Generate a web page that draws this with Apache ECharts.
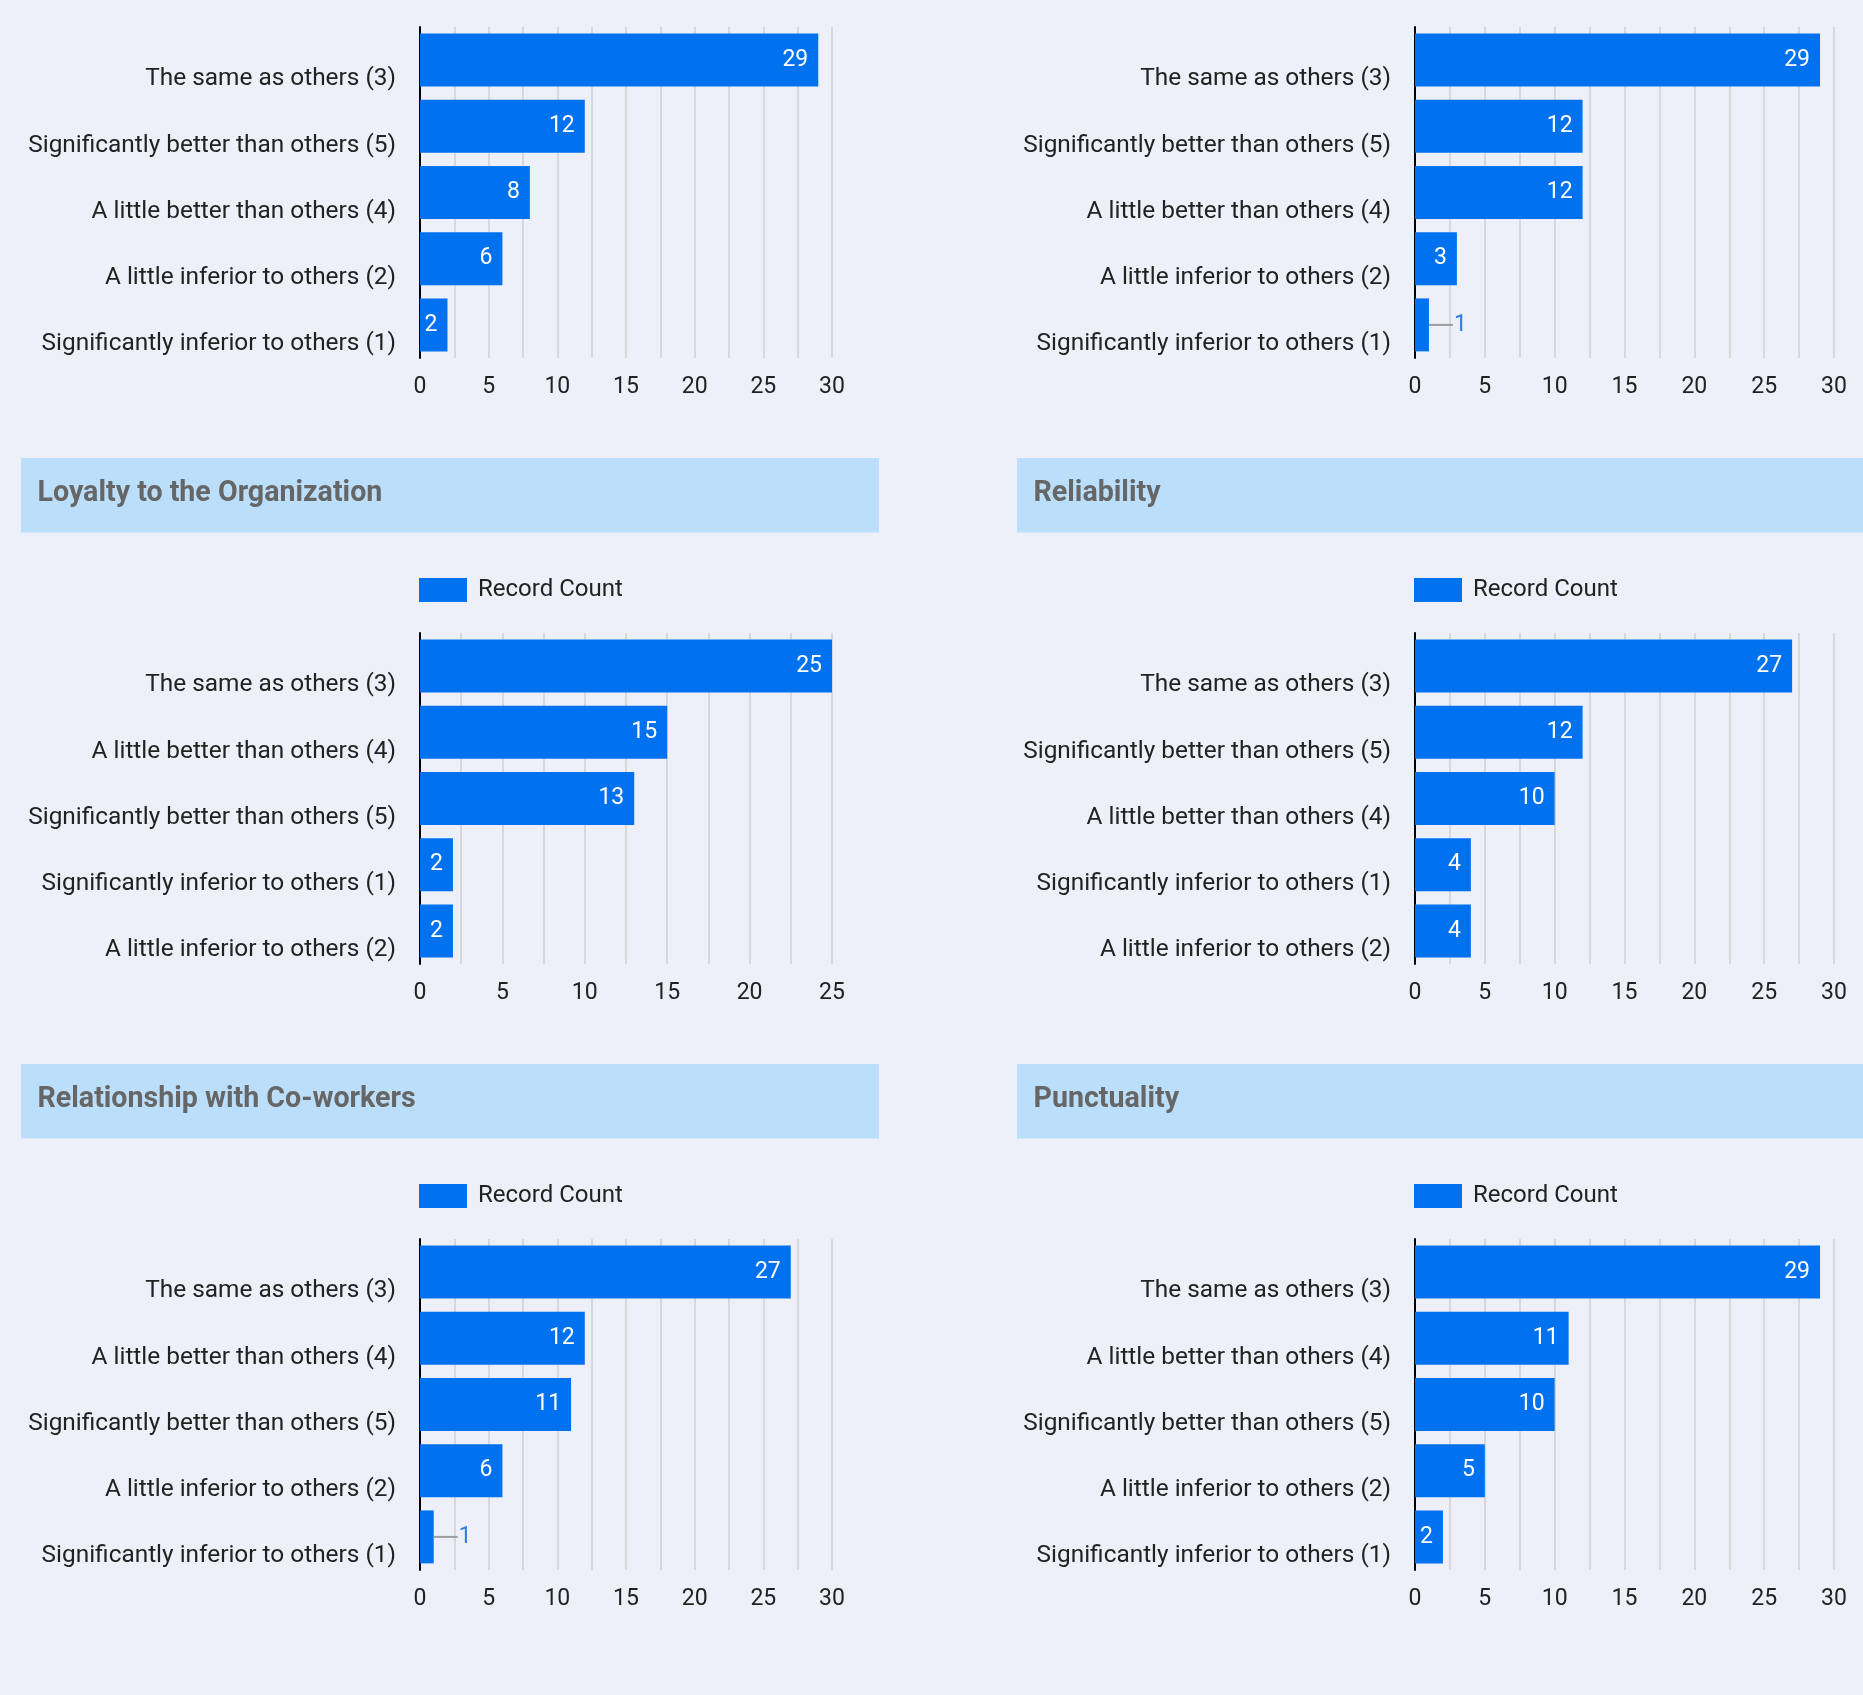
<!DOCTYPE html>
<html>
<head>
<meta charset="utf-8">
<title>Employee Rating Summary</title>
<script src="https://cdn.jsdelivr.net/npm/echarts@6/dist/echarts.min.js"></script>
<style>
  html, body { margin: 0; padding: 0; background: #edf0f9; }
  #chart { width: 1863px; height: 1695px; }
</style>
</head>
<body>
<div id="chart"></div>
<script>
// ---- data: one block per rating question (panels read left-to-right, top-to-bottom) ----
const panelTitles = ['', '', 'Loyalty to the Organization', 'Reliability', 'Relationship with Co-workers', 'Punctuality'];

const cats1 = ['The same as others (3)', 'Significantly better than others (5)', 'A little better than others (4)', 'A little inferior to others (2)', 'Significantly inferior to others (1)'];
const vals1 = [29, 12, 8, 6, 2];

const cats2 = ['The same as others (3)', 'Significantly better than others (5)', 'A little better than others (4)', 'A little inferior to others (2)', 'Significantly inferior to others (1)'];
const vals2 = [29, 12, 12, 3, 1];

const catsLoyalty = ['The same as others (3)', 'A little better than others (4)', 'Significantly better than others (5)', 'Significantly inferior to others (1)', 'A little inferior to others (2)'];
const valsLoyalty = [25, 15, 13, 2, 2];

const catsReliability = ['The same as others (3)', 'Significantly better than others (5)', 'A little better than others (4)', 'Significantly inferior to others (1)', 'A little inferior to others (2)'];
const valsReliability = [27, 12, 10, 4, 4];

const catsRelationship = ['The same as others (3)', 'A little better than others (4)', 'Significantly better than others (5)', 'A little inferior to others (2)', 'Significantly inferior to others (1)'];
const valsRelationship = [27, 12, 11, 6, 1];

const catsPunctuality = ['The same as others (3)', 'A little better than others (4)', 'Significantly better than others (5)', 'A little inferior to others (2)', 'Significantly inferior to others (1)'];
const valsPunctuality = [29, 11, 10, 5, 2];

// value-axis extent for each panel
const axisMax = [30, 30, 25, 30, 30, 30];
const seriesName = 'Record Count';

const panelCats = [cats1, cats2, catsLoyalty, catsReliability, catsRelationship, catsPunctuality];
const panelVals = [vals1, vals2, valsLoyalty, valsReliability, valsRelationship, valsPunctuality];

// ---- layout ----
const BAR = '#0072f0';
const FONT = 'Roboto, "Noto Sans", sans-serif';
const colLeft = [420, 1415];
const colWidth = [412, 419];
const colHeaderX = [21, 1017];
const colHeaderW = [858, 880];
const rowTop = [27, 633, 1239];
const gridH = 331;

const grids = [], xAxes = [], yAxes = [], series = [], legends = [], graphics = [];

panelCats.forEach((cats, i) => {
  const col = i % 2, row = Math.floor(i / 2);
  const top = rowTop[row];
  grids.push({ left: colLeft[col], top: top, width: colWidth[col], height: gridH, containLabel: false });

  xAxes.push({
    type: 'value', gridIndex: i, min: 0, max: axisMax[i], interval: 2.5,
    axisLine: { show: false }, axisTick: { show: false },
    splitLine: { show: true, lineStyle: { color: '#d0d0d0', width: 1.5 } },
    axisLabel: {
      margin: 18, fontSize: 23, color: '#222', fontFamily: FONT,
      formatter: v => (v % 5 === 0 ? String(v) : '')
    }
  });

  // category names sit a little below the centre of their bar
  yAxes.push({
    type: 'category', gridIndex: i, data: cats, inverse: true,
    axisLine: { show: true, lineStyle: { color: '#000', width: 2 } },
    axisTick: { show: false },
    splitLine: { show: false },
    axisLabel: {
      margin: 24, fontSize: 24.4, color: '#222', fontFamily: FONT,
      verticalAlign: 'top', lineHeight: 38.5
    }
  });

  // small bars carry their value outside, joined by a short grey leader
  const data = panelVals[i].map(v => v < 2 ? {
    value: v,
    label: {
      position: 'right', distance: 0,
      formatter: '{ln| }{v|{c}}',
      rich: {
        ln: { width: 24, height: 2, backgroundColor: '#9e9e9e' },
        v: { color: '#2a7fe6', fontSize: 23, fontFamily: FONT, padding: [0, 0, 0, 1] }
      }
    }
  } : v);

  series.push({
    name: seriesName, type: 'bar', xAxisIndex: i, yAxisIndex: i,
    data: data, barCategoryGap: '20%',
    itemStyle: { color: BAR },
    label: {
      show: true, position: 'insideRight', distance: 10,
      color: '#fff', fontSize: 23, fontFamily: FONT
    },
    emphasis: { disabled: true }
  });

  if (panelTitles[i]) {
    const hTop = top - 175;
    graphics.push({
      type: 'rect', left: colHeaderX[col], top: hTop,
      shape: { width: colHeaderW[col], height: 74.5 },
      style: { fill: '#bbdefa' }, silent: true
    });
    graphics.push({
      type: 'text', x: colHeaderX[col] + 16.5, y: hTop + 35.5,
      style: {
        text: panelTitles[i], fill: '#666', font: 'bold 28.6px ' + FONT,
        verticalAlign: 'middle', align: 'left'
      }, silent: true
    });
    legends.push({
      left: colLeft[col] - 1, top: top - 55, padding: 0,
      data: [seriesName], icon: 'rect', itemWidth: 48, itemHeight: 24,
      textStyle: { fontSize: 24, color: '#222', fontFamily: FONT, padding: [3, 0, 0, 6] },
      selectedMode: false
    });
  }
});

const chart = echarts.init(document.getElementById('chart'), null, { renderer: 'canvas' });
chart.setOption({
  backgroundColor: '#edf0f9',
  animation: false,
  textStyle: { fontFamily: FONT },
  grid: grids, xAxis: xAxes, yAxis: yAxes, series: series,
  legend: legends, graphic: graphics
});
</script>
</body>
</html>
